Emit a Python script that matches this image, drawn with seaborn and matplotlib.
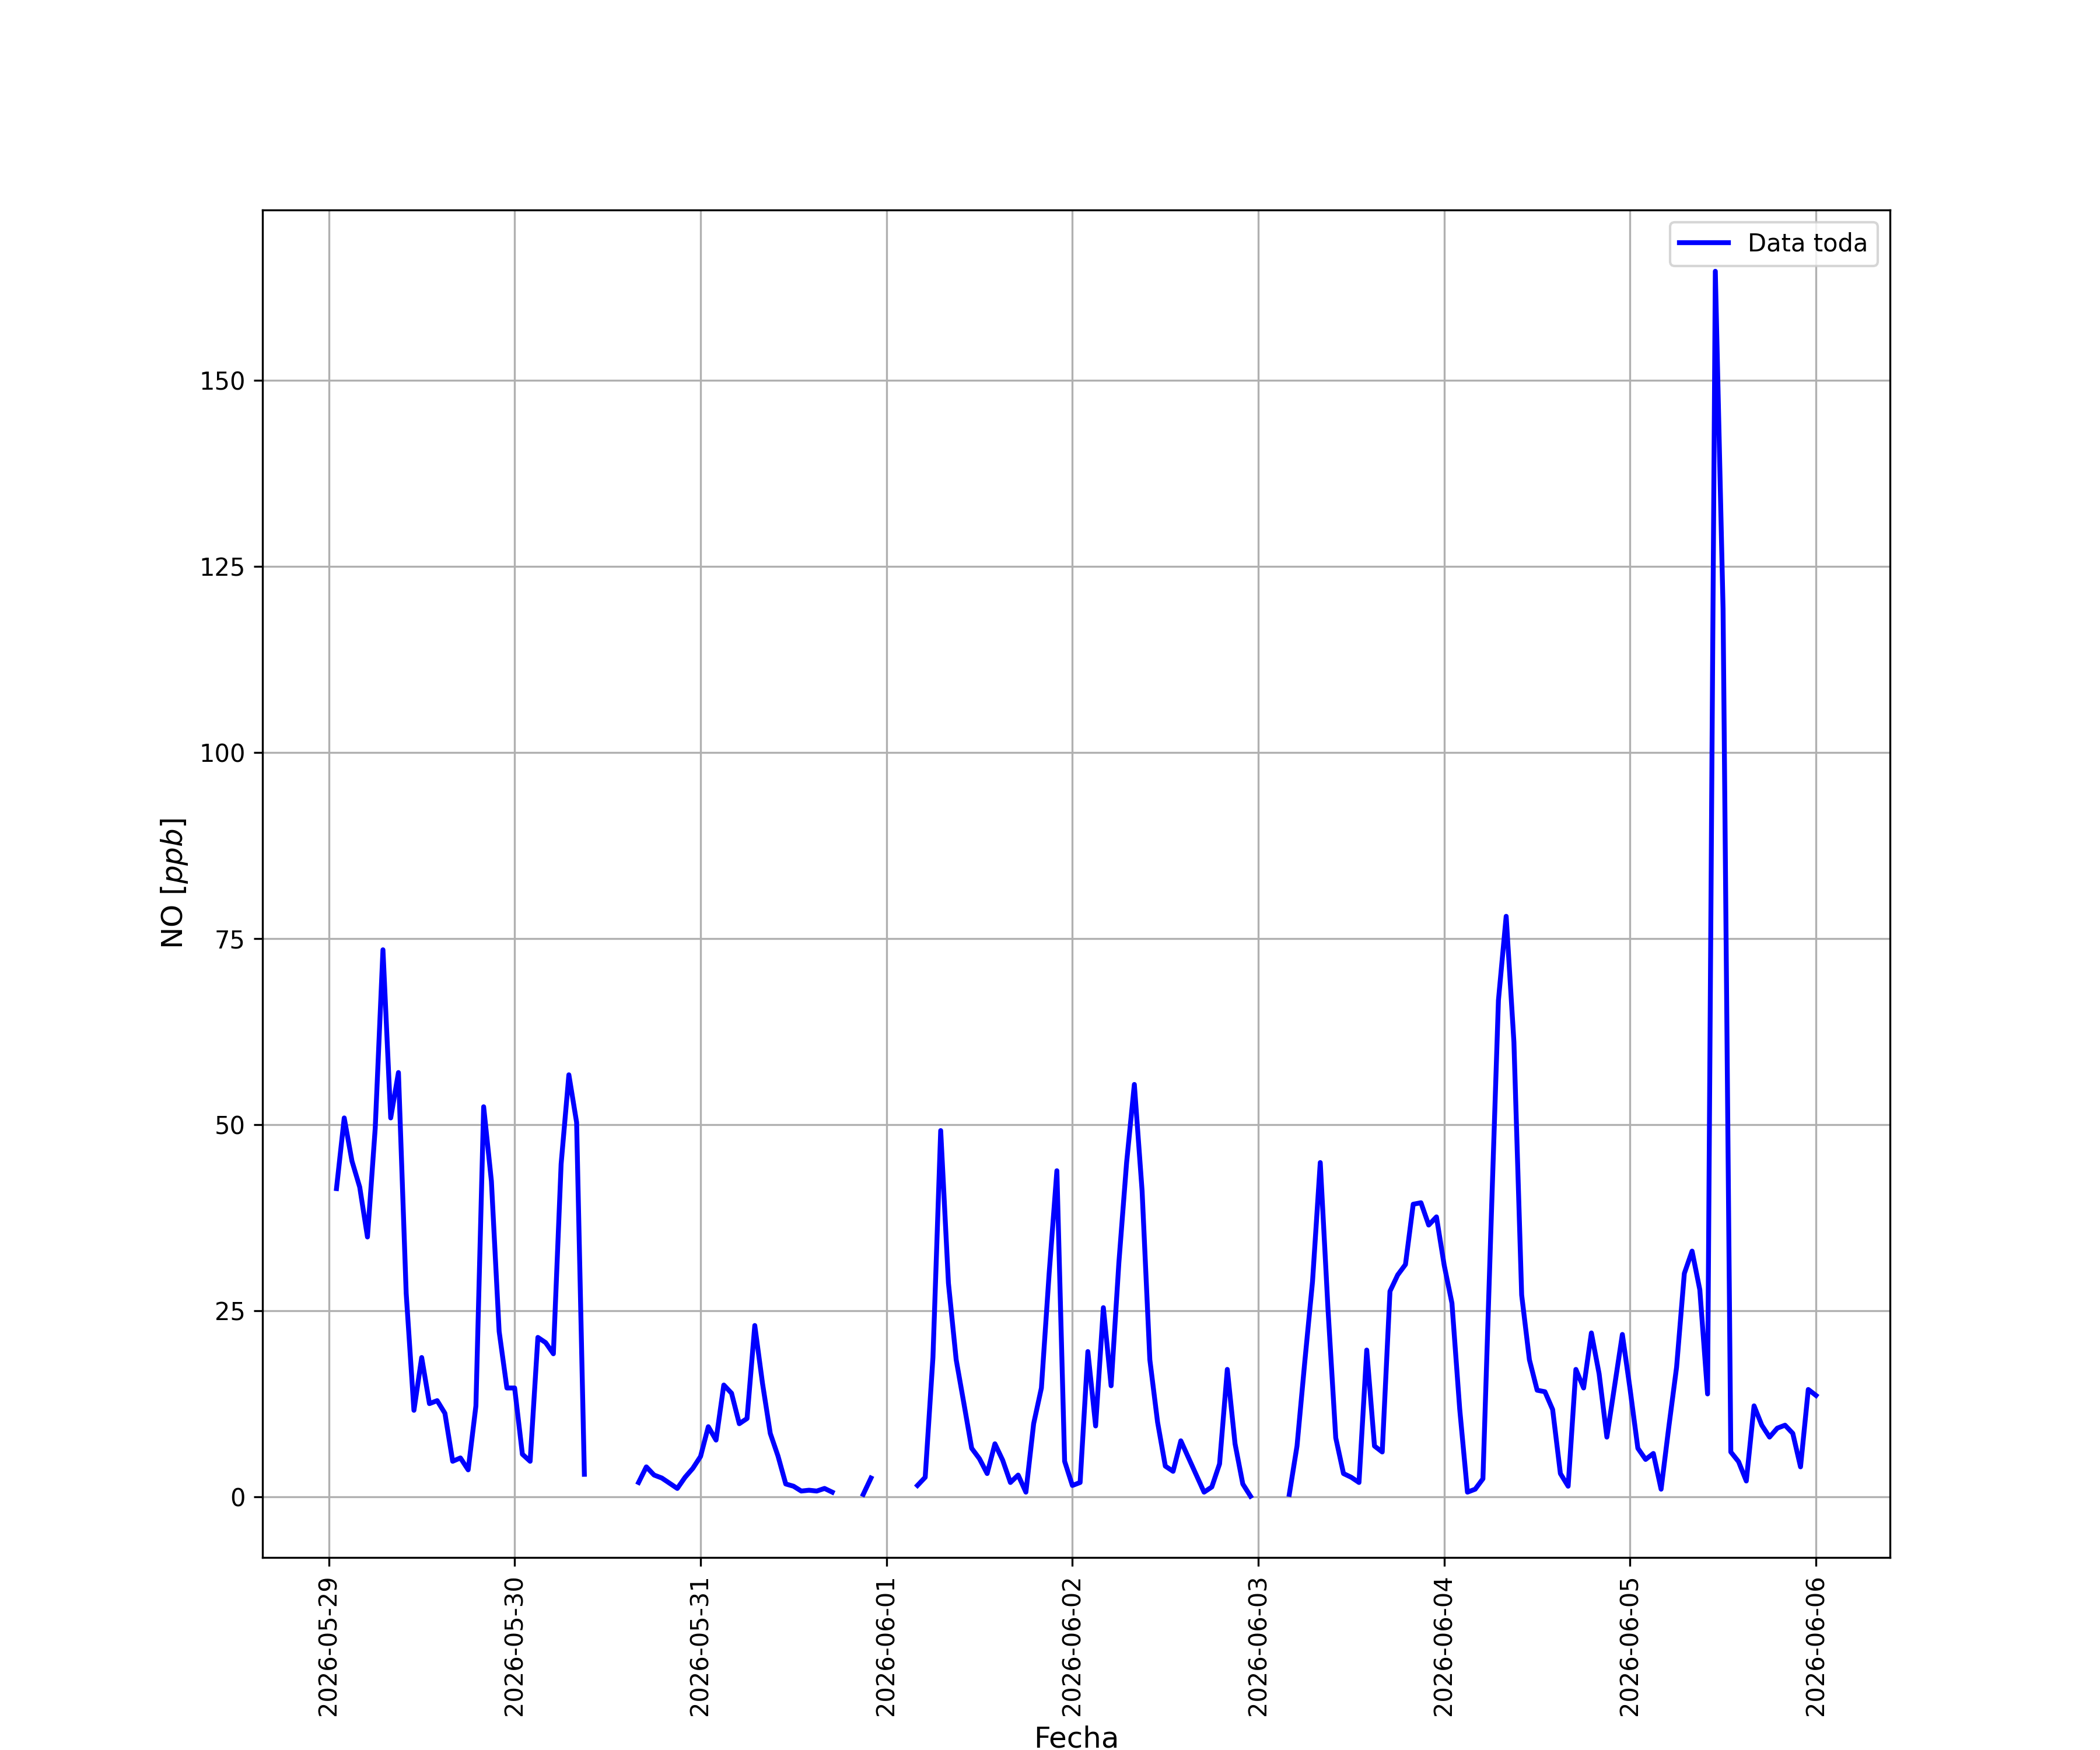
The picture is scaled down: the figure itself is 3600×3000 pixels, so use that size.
import numpy as np
import pandas as pd
import matplotlib
matplotlib.use('Agg')
import matplotlib.pyplot as plt
import matplotlib.dates as mdates
import seaborn as sns

nan = np.nan

# NO horario [ppb], una lista por dia (el primer dia empieza a la 01:00)
no_0529 = [41.4, 50.9, 45.1, 41.6, 34.9, 49.5, 73.5, 50.9, 57.0, 27.3, 11.6, 18.7,
           12.5, 12.9, 11.2, 4.75, 5.2, 3.6, 12.2, 52.4, 42.4, 22.2, 14.6]
no_0530 = [14.6, 5.7, 4.75, 21.4, 20.7, 19.2, 44.7, 56.7, 50.3, 3.0, nan, nan,
           nan, nan, nan, nan, 1.9, 4.0, 2.9, 2.5, 1.8, 1.1, 2.6, 3.8]
no_0531 = [5.4, 9.4, 7.6, 15.0, 13.9, 9.8, 10.5, 23.0, 15.2, 8.5, 5.45, 1.7,
           1.4, 0.75, 0.86, 0.75, 1.1, 0.6, nan, nan, nan, 0.3, 2.5, nan]
no_0601 = [nan, nan, nan, nan, 1.5, 2.6, 18.7, 49.2, 28.7, 18.4, 12.5, 6.5,
           5.1, 3.1, 7.1, 4.9, 1.9, 2.9, 0.6, 9.8, 14.6, 30.0, 43.8, 4.75]
no_0602 = [1.5, 1.9, 19.5, 9.5, 25.4, 14.9, 31.4, 44.9, 55.4, 41.1, 18.4, 10.0,
           4.1, 3.4, 7.5, 5.2, 2.9, 0.6, 1.3, 4.4, 17.1, 7.1, 1.7, 0.05]
no_0603 = [nan, nan, nan, nan, 0.3, 6.8, 18.1, 28.9, 44.9, 25.2, 7.9, 3.1,
           2.6, 1.9, 19.7, 6.8, 6.0, 27.6, 29.8, 31.2, 39.3, 39.5, 36.5, 37.6]
no_0604 = [31.1, 26.0, 11.8, 0.6, 1.0, 2.4, 35.0, 66.7, 78.0, 61.1, 27.1, 18.4,
           14.3, 14.1, 11.7, 3.1, 1.4, 17.1, 14.6, 22.0, 16.5, 8.0, 14.9, 21.8]
no_0605 = [14.4, 6.5, 5.0, 5.8, 1.0, 9.4, 17.4, 30.0, 33.0, 27.8, 13.8, 164.7,
           119.3, 6.0, 4.7, 2.1, 12.2, 9.6, 8.0, 9.2, 9.6, 8.5, 4.0, 14.4]
no_0606 = [13.6]

valores = no_0529 + no_0530 + no_0531 + no_0601 + no_0602 + no_0603 + no_0604 + no_0605 + no_0606
fechas = pd.date_range('2026-05-29 01:00', periods=len(valores), freq='h')

df = pd.DataFrame({'fecha': fechas, 'NO': valores})
# cada hueco de datos abre un tramo nuevo para que la linea no los una
df['tramo'] = df['NO'].isna().cumsum()
df = df.dropna()

fig, ax = plt.subplots(figsize=(12, 10))
sns.lineplot(x='fecha', y='NO', data=df, units='tramo', estimator=None,
             color='blue', linewidth=2, label='Data toda', ax=ax)

ax.xaxis.set_major_locator(mdates.DayLocator())
ax.xaxis.set_major_formatter(mdates.DateFormatter('%Y-%m-%d'))
plt.xticks(rotation=90)

ax.set_xlabel('Fecha', fontsize=12)
ax.set_ylabel('NO [$ppb$]', fontsize=12)

handles, labels = ax.get_legend_handles_labels()
ax.legend(handles[:1], labels[:1], loc='upper right')

ax.grid(True)
plt.savefig('out.png', dpi=300)
